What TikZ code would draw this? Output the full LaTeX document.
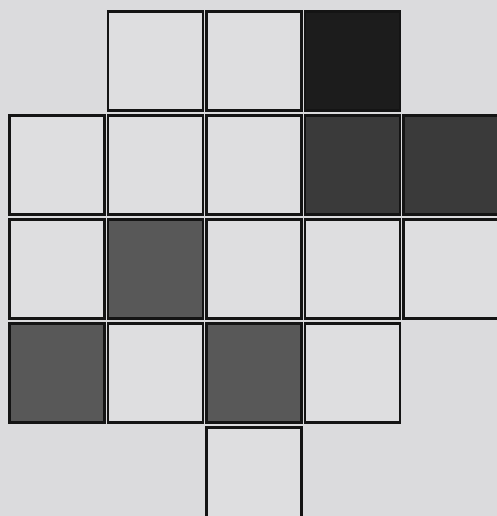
\documentclass[tikz,border=0pt]{standalone}
\usepackage{tikz}
\usetikzlibrary{matrix}
\usetikzlibrary{positioning}
\definecolor{scan-paper}{HTML}{DBDBDD}
\definecolor{scan-ink}{HTML}{141414}
\definecolor{scan-light}{HTML}{DEDEE0}
\definecolor{scan-black}{HTML}{1C1C1C}
\definecolor{scan-dark}{HTML}{3A3A3A}
\definecolor{scan-mid}{HTML}{585858}

\begin{document}
\begin{tikzpicture}[
    % Cell styles for the patchwork grid
    sq/.style={draw=scan-ink, line width=1.4pt, fill=scan-light, minimum width=1.9cm, minimum height=1.98cm, inner sep=0pt},
    sqblack/.style={sq, fill=scan-black},
    sqdark/.style={sq, fill=scan-dark},
    sqgray/.style={sq, fill=scan-mid}
  ]

  % =========================================================================
  % PAGE AND CROP
  % =========================================================================
  \useasboundingbox (0,0) rectangle (9.94,-10.32);
  \fill[scan-paper] (0,0) rectangle (9.94,-10.32);
  \clip (0,0) rectangle (9.94,-10.32);

  % =========================================================================
  % GRID OF SQUARES
  % =========================================================================
  \matrix [matrix of nodes, nodes={sq}, column sep=0.02cm, row sep=0.05cm,
           inner sep=0pt, anchor=north west] (grid) at (0.16,-0.2) {
                  & |[sq]|     & |[sq]|     & |[sqblack]| &            \\
    |[sq]|      & |[sq]|     & |[sq]|     & |[sqdark]|  & |[sqdark]| \\
    |[sq]|      & |[sqgray]| & |[sq]|     & |[sq]|      & |[sq]|     \\
    |[sqgray]|  & |[sq]|     & |[sqgray]| & |[sq]|      &            \\
                  &            & |[sq]|     &             &            \\
  };

\end{tikzpicture}
\end{document}
